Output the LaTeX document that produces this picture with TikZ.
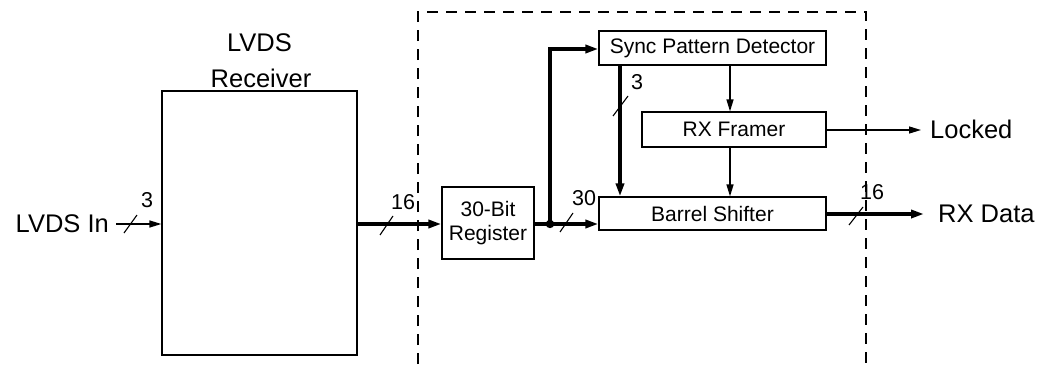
\documentclass[tikz,border=0pt]{standalone}
\usepackage{fontspec}
\setmainfont{Liberation Sans}
\usetikzlibrary{arrows.meta}
\begin{document}
\begin{tikzpicture}[x=1pt,y=-1pt,
  blk/.style={draw,line width=1.2pt,rectangle,inner sep=0pt,font=\fontsize{21}{25}\selectfont},
  outer/.style={inner sep=0pt,font=\fontsize{25.5}{30}\selectfont},
  num/.style={inner sep=0pt,font=\fontsize{21.5}{25}\selectfont},
  thin/.style={line width=1.3pt,-{Triangle[length=12pt,width=7pt]}},
  bus/.style={line width=4pt,-{Triangle[length=13pt,width=8pt]}},
  busline/.style={line width=4pt},
  slashmark/.style={line width=1.1pt},
  frame/.style={line width=1.2pt,dash pattern=on 11pt off 8pt}]
\useasboundingbox (0,0) rectangle (1054,364);
% dashed enclosure (open at bottom)
\draw[frame] (418,364) -- (418,12) -- (866,12) -- (866,364);
% blocks
\node[blk,minimum width=195pt,minimum height=264pt] (recv) at (259.5,223) {};
\node[outer] (recvl1) at (259.5,43) {LVDS};
\node[outer] (recvl2) at (261,78) {Receiver};
\node[blk,minimum width=92pt,minimum height=72pt,align=center] (reg) at (488,223) {30-Bit\\[-1pt]Register};
\node[blk,minimum width=227pt,minimum height=34pt] (spd) at (712.5,48) {Sync Pattern Detector};
\node[blk,minimum width=184pt,minimum height=35pt] (fr) at (734,129.5) {RX Framer};
\node[blk,minimum width=227pt,minimum height=33pt] (bs) at (712.5,213.5) {Barrel Shifter};
% outer texts
\node[outer,anchor=east] (lvdsin) at (109,224) {LVDS In};
\node[outer,anchor=west] (locked) at (930,129) {Locked};
\node[outer,anchor=west] (rxdata) at (938,214) {RX Data};
% coordinates
\coordinate (inS) at (116,224);
\coordinate (dot) at (550,224);
\coordinate (lockE) at (921,130);
\coordinate (rxE) at (924,214);
% connectors
\draw[thin] (inS) -- (recv.west |- inS);
\draw[bus] (recv.east |- 0,224) -- (reg.west |- 0,224);
\draw[busline] (reg.east |- dot) -- (dot);
\draw[bus] (dot) -- (bs.west |- dot);
\draw[bus] (dot) -- (550,49) -- (spd.west |- 0,49);
\fill (dot) circle (4.2pt);
\draw[bus] (spd.south -| 620,0) -- (bs.north -| 620,0);
\draw[thin] (spd.south -| fr.north) ++(-4,0) coordinate (a1) -- (a1 |- fr.north);
\draw[thin] (fr.south) ++(-4,0) coordinate (a2) -- (a2 |- bs.north);
\draw[thin] (fr.east |- lockE) -- (lockE);
\draw[bus] (bs.east |- rxE) -- (rxE);
% bus width marks
\draw[slashmark] (124,233) -- (137,215);
\node[num] (n3a) at (147,200) {3};
\draw[slashmark] (380,235) -- (393,216);
\node[num] (n16a) at (403,202) {16};
\draw[slashmark] (560,232) -- (573,213);
\node[num] (n30) at (584,198) {30};
\draw[slashmark] (613,116) -- (628,96);
\node[num] (n3b) at (637,82) {3};
\draw[slashmark] (849,225) -- (863,207);
\node[num] (n16b) at (872,192) {16};
\end{tikzpicture}
\end{document}
